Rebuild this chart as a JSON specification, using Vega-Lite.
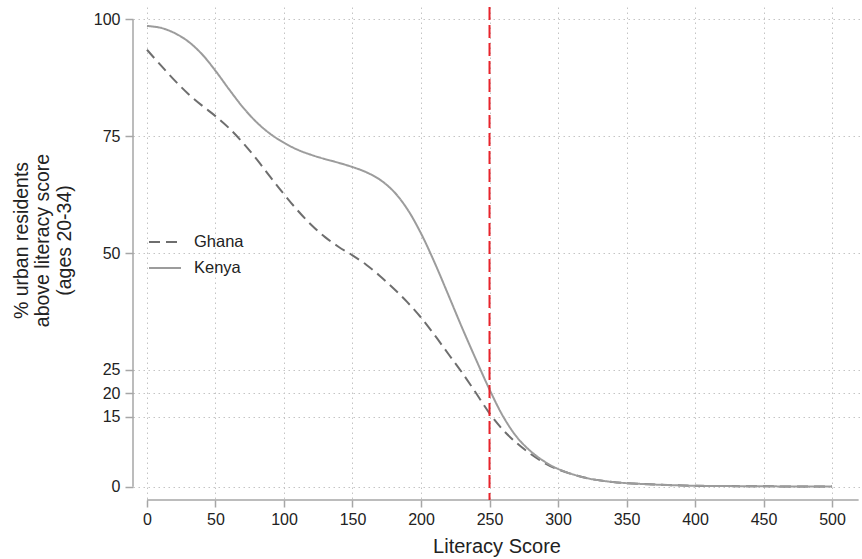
{
  "$schema": "https://vega.github.io/schema/vega-lite/v6.json",
  "width": 727,
  "height": 493,
  "autosize": {"type": "none"},
  "padding": {"left": 133, "top": 7, "right": 2, "bottom": 59},
  "config": {
    "view": {"stroke": null},
    "font": "Liberation Sans",
    "legend": {
      "orient": "none",
      "legendX": 15,
      "legendY": 218,
      "title": null,
      "padding": 0,
      "symbolType": "stroke",
      "symbolSize": 1024,
      "symbolStrokeWidth": 2,
      "labelFontSize": 16.5,
      "labelColor": "#222222",
      "labelOffset": 12,
      "rowPadding": -6
    }
  },
  "datasets": {
    "curves": [
      {"country": "Ghana", "score": 0, "pct": 93.5},
      {"country": "Ghana", "score": 10, "pct": 90.2},
      {"country": "Ghana", "score": 20, "pct": 87.0},
      {"country": "Ghana", "score": 30, "pct": 84.1},
      {"country": "Ghana", "score": 40, "pct": 81.6},
      {"country": "Ghana", "score": 50, "pct": 79.3},
      {"country": "Ghana", "score": 60, "pct": 76.7},
      {"country": "Ghana", "score": 70, "pct": 73.6},
      {"country": "Ghana", "score": 80, "pct": 70.1},
      {"country": "Ghana", "score": 90, "pct": 66.3},
      {"country": "Ghana", "score": 100, "pct": 62.6},
      {"country": "Ghana", "score": 110, "pct": 59.1},
      {"country": "Ghana", "score": 120, "pct": 56.0},
      {"country": "Ghana", "score": 130, "pct": 53.4},
      {"country": "Ghana", "score": 140, "pct": 51.3},
      {"country": "Ghana", "score": 150, "pct": 49.5},
      {"country": "Ghana", "score": 160, "pct": 47.5},
      {"country": "Ghana", "score": 170, "pct": 45.1},
      {"country": "Ghana", "score": 180, "pct": 42.4},
      {"country": "Ghana", "score": 190, "pct": 39.5},
      {"country": "Ghana", "score": 200, "pct": 36.2},
      {"country": "Ghana", "score": 210, "pct": 32.4},
      {"country": "Ghana", "score": 220, "pct": 28.4},
      {"country": "Ghana", "score": 230, "pct": 24.4},
      {"country": "Ghana", "score": 240, "pct": 20.1},
      {"country": "Ghana", "score": 250, "pct": 15.7},
      {"country": "Ghana", "score": 260, "pct": 12.1},
      {"country": "Ghana", "score": 270, "pct": 9.3},
      {"country": "Ghana", "score": 280, "pct": 7.0},
      {"country": "Ghana", "score": 290, "pct": 5.1},
      {"country": "Ghana", "score": 300, "pct": 3.7},
      {"country": "Ghana", "score": 320, "pct": 1.9},
      {"country": "Ghana", "score": 340, "pct": 1.0},
      {"country": "Ghana", "score": 360, "pct": 0.6},
      {"country": "Ghana", "score": 380, "pct": 0.35},
      {"country": "Ghana", "score": 400, "pct": 0.2},
      {"country": "Ghana", "score": 450, "pct": 0.08},
      {"country": "Ghana", "score": 500, "pct": 0.03},
      {"country": "Kenya", "score": 0, "pct": 98.6},
      {"country": "Kenya", "score": 10, "pct": 98.2},
      {"country": "Kenya", "score": 20, "pct": 97.1},
      {"country": "Kenya", "score": 30, "pct": 95.3},
      {"country": "Kenya", "score": 40, "pct": 92.6},
      {"country": "Kenya", "score": 50, "pct": 89.0},
      {"country": "Kenya", "score": 60, "pct": 85.0},
      {"country": "Kenya", "score": 70, "pct": 81.2},
      {"country": "Kenya", "score": 80, "pct": 78.0},
      {"country": "Kenya", "score": 90, "pct": 75.5},
      {"country": "Kenya", "score": 100, "pct": 73.6},
      {"country": "Kenya", "score": 110, "pct": 72.1},
      {"country": "Kenya", "score": 120, "pct": 71.0},
      {"country": "Kenya", "score": 130, "pct": 70.1},
      {"country": "Kenya", "score": 140, "pct": 69.3},
      {"country": "Kenya", "score": 150, "pct": 68.4},
      {"country": "Kenya", "score": 160, "pct": 67.3},
      {"country": "Kenya", "score": 170, "pct": 65.7},
      {"country": "Kenya", "score": 180, "pct": 63.2},
      {"country": "Kenya", "score": 190, "pct": 59.4},
      {"country": "Kenya", "score": 200, "pct": 54.2},
      {"country": "Kenya", "score": 210, "pct": 47.9},
      {"country": "Kenya", "score": 220, "pct": 41.0},
      {"country": "Kenya", "score": 230, "pct": 34.0},
      {"country": "Kenya", "score": 240, "pct": 27.3},
      {"country": "Kenya", "score": 250, "pct": 20.8},
      {"country": "Kenya", "score": 260, "pct": 15.0},
      {"country": "Kenya", "score": 270, "pct": 10.6},
      {"country": "Kenya", "score": 280, "pct": 7.6},
      {"country": "Kenya", "score": 290, "pct": 5.4},
      {"country": "Kenya", "score": 300, "pct": 3.8},
      {"country": "Kenya", "score": 320, "pct": 1.9},
      {"country": "Kenya", "score": 340, "pct": 1.0},
      {"country": "Kenya", "score": 360, "pct": 0.6},
      {"country": "Kenya", "score": 380, "pct": 0.35},
      {"country": "Kenya", "score": 400, "pct": 0.2},
      {"country": "Kenya", "score": 450, "pct": 0.08},
      {"country": "Kenya", "score": 500, "pct": 0.03}
    ]
  },
  "layer": [
    {
      "data": {"name": "curves"},
      "mark": {"type": "line", "strokeWidth": 2, "interpolate": "catmull-rom"},
      "encoding": {
        "x": {
          "field": "score",
          "type": "quantitative",
          "scale": {"domain": [-10.2, 520.4], "nice": false, "zero": false},
          "axis": {
            "values": [0, 50, 100, 150, 200, 250, 300, 350, 400, 450, 500],
            "domain": false,
            "tickColor": "#a6a6a6",
            "tickSize": 7,
            "tickWidth": 1.5,
            "labelFontSize": 16,
            "labelColor": "#222222",
            "labelPadding": 4,
            "title": "Literacy Score",
            "titleFontSize": 20,
            "titleFontWeight": "normal",
            "titleColor": "#222222",
            "titlePadding": 9,
            "grid": true,
            "gridDash": [1.5, 3.5],
            "gridColor": "#c4c4c4",
            "gridWidth": 1
          }
        },
        "y": {
          "field": "pct",
          "type": "quantitative",
          "scale": {"domain": [-2.85, 102.65], "nice": false, "zero": false},
          "axis": {
            "values": [0, 15, 20, 25, 50, 75, 100],
            "domain": false,
            "tickColor": "#a6a6a6",
            "tickSize": 8,
            "tickWidth": 1.5,
            "labelFontSize": 16,
            "labelColor": "#222222",
            "labelPadding": 5,
            "title": ["% urban residents", "above literacy score", "(ages 20-34)"],
            "titleFontSize": 19.5,
            "titleFontWeight": "normal",
            "titleColor": "#222222",
            "titleLineHeight": 21.5,
            "titleAngle": -90,
            "titleAlign": "center",
            "titleBaseline": "middle",
            "titleX": -112,
            "titleY": 233,
            "grid": true,
            "gridDash": [1.5, 3.5],
            "gridColor": "#c4c4c4",
            "gridWidth": 1
          }
        },
        "color": {
          "field": "country",
          "type": "nominal",
          "scale": {"domain": ["Ghana", "Kenya"], "range": ["#6e6e6e", "#9c9c9c"]}
        },
        "strokeDash": {
          "field": "country",
          "type": "nominal",
          "scale": {"domain": ["Ghana", "Kenya"], "range": [[11, 6], [1, 0]]}
        }
      }
    },
    {
      "data": {"values": [{}]},
      "mark": {"type": "rule", "color": "#a6a6a6", "strokeWidth": 1.5},
      "encoding": {
        "x": {"datum": -10.2, "type": "quantitative"},
        "y": {"datum": 0, "type": "quantitative"},
        "y2": {"datum": 100}
      }
    },
    {
      "data": {"values": [{}]},
      "mark": {"type": "rule", "color": "#a6a6a6", "strokeWidth": 1.5},
      "encoding": {
        "y": {"datum": -2.85, "type": "quantitative"},
        "x": {"datum": 0, "type": "quantitative"},
        "x2": {"datum": 519.4}
      }
    },
    {
      "data": {"values": [{}]},
      "mark": {"type": "rule", "color": "#e8232b", "strokeWidth": 2, "strokeDash": [13, 5]},
      "encoding": {
        "x": {"datum": 250, "type": "quantitative"}
      }
    }
  ]
}
